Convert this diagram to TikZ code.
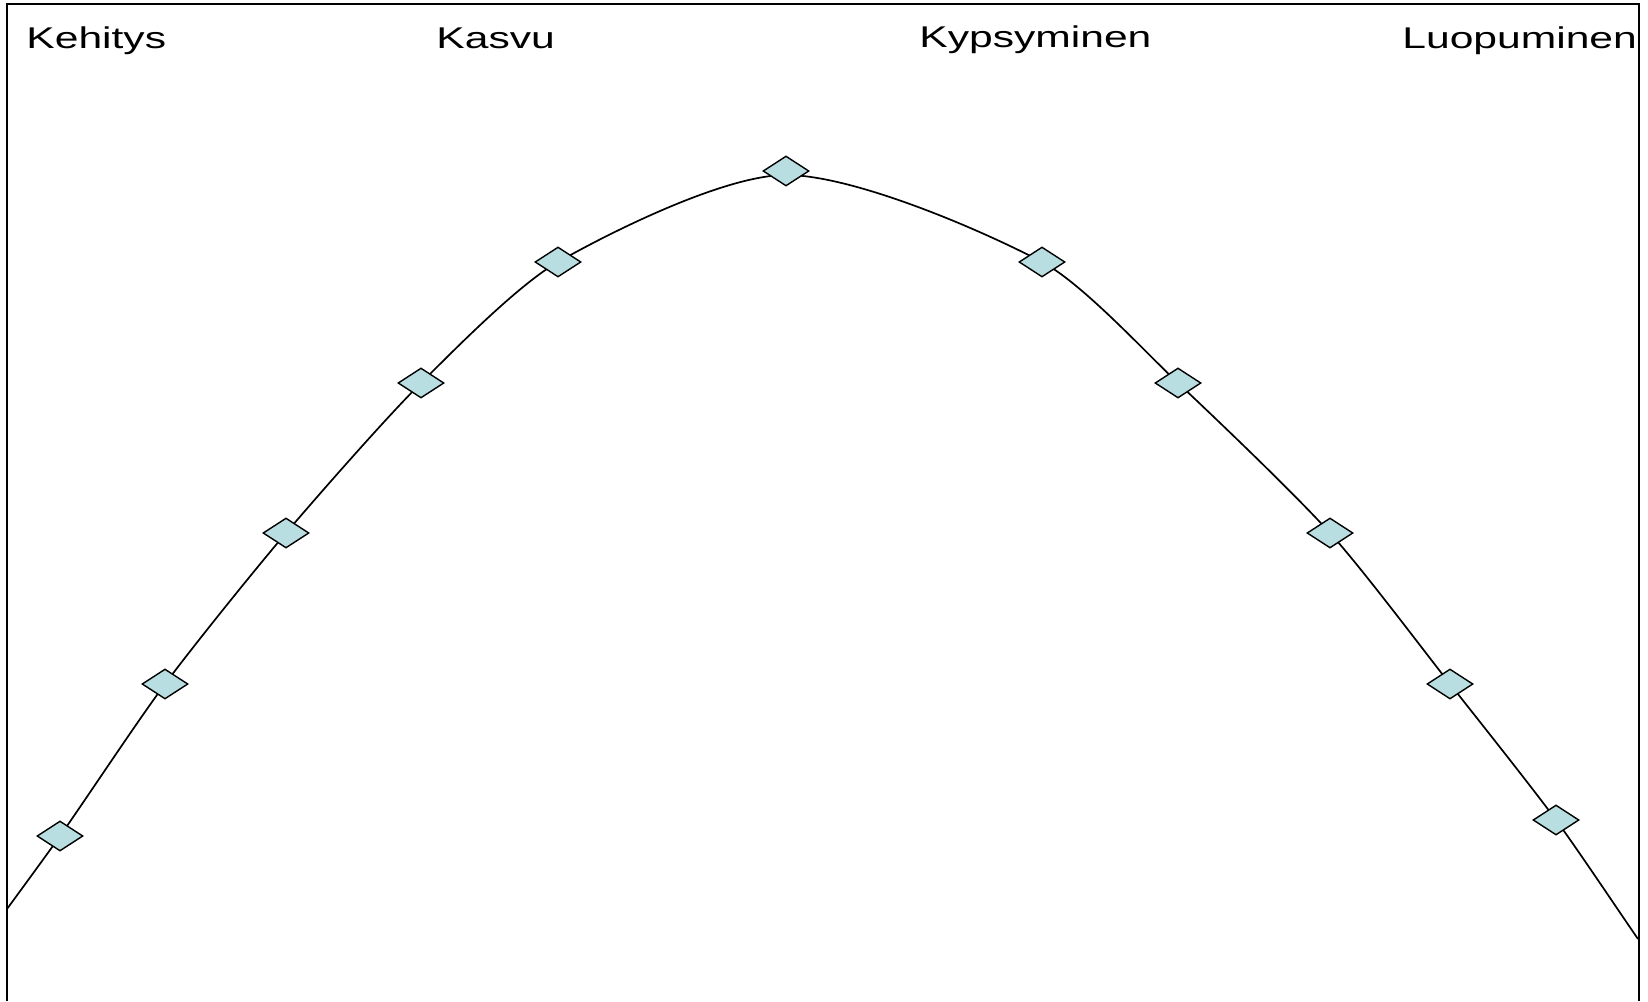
\documentclass[tikz,border=0pt]{standalone}
\usepackage{fontspec}
\newfontfamily\lab[FakeStretch=1.42]{Liberation Sans}
\usetikzlibrary{shapes.geometric}
\definecolor{markfill}{RGB}{184,222,226}
\tikzset{
  marker/.style={shape=diamond, draw=black, fill=markfill, line width=0.7pt, inner sep=0pt, minimum width=23pt, minimum height=15pt},
  label text/.style={anchor=base west, inner sep=0pt, font=\lab\fontsize{15}{18}\selectfont},
  frame/.style={line width=0.9pt},
  curve/.style={line width=0.85pt}
}
\begin{document}
\begin{tikzpicture}[x=0.5pt,y=-0.5pt]
\useasboundingbox (0,0) rectangle (1648,1001);
\fill[white] (0,0) rectangle (1648,1001);
\draw[frame] (7,1001) -- (7,4) -- (1639,4) -- (1639,1001);
% curve coordinates
\coordinate (p0) at (7,909);
\coordinate (p1) at (60,836);
\coordinate (p2) at (165,684);
\coordinate (p3) at (286,533);
\coordinate (p4) at (421,383);
\coordinate (p5) at (558,262);
\coordinate (p6) at (786,175);
\coordinate (p7) at (1042,262);
\coordinate (p8) at (1178,383);
\coordinate (p9) at (1330,533);
\coordinate (p10) at (1450,684);
\coordinate (p11) at (1556,820);
\coordinate (p12) at (1638,939);
\draw[curve] (p0) .. controls (20.3,890.8) and (47.0,854.4) .. (p1)
  .. controls (86.6,798.2) and (137.4,721.1) .. (p2)
  .. controls (193.9,645.2) and (254.6,569.9) .. (p3)
  .. controls (318.7,494.6) and (385.3,418.6) .. (p4)
  .. controls (453.4,350.7) and (518.3,284.6) .. (p5)
  .. controls (611.0,231.8) and (725,175) .. (p6)
  .. controls (853.6,175) and (982.3,230.3) .. (p7)
  .. controls (1082.2,283.3) and (1144.9,351.8) .. (p8)
  .. controls (1216.9,419.6) and (1294.2,493.4) .. (p9)
  .. controls (1362.3,568.8) and (1420.2,646.1) .. (p10)
  .. controls (1476.7,717.9) and (1530.4,785.3) .. (p11)
  .. controls (1577.4,849.1) and (1617.5,909.3) .. (p12);
\foreach \i in {1,...,5,7,8,9,10,11} {\node[marker] (d\i) at (p\i) {};}
\node[marker, yshift=2pt] (d6) at (p6) {};
% labels
\node[label text] (t1) at (26,48) {Kehitys};
\node[label text] (t2) at (436,48) {Kasvu};
\node[label text] (t3) at (919,47) {Kypsyminen};
\node[label text] (t4) at (1402,48) {Luopuminen};
\end{tikzpicture}
\end{document}
